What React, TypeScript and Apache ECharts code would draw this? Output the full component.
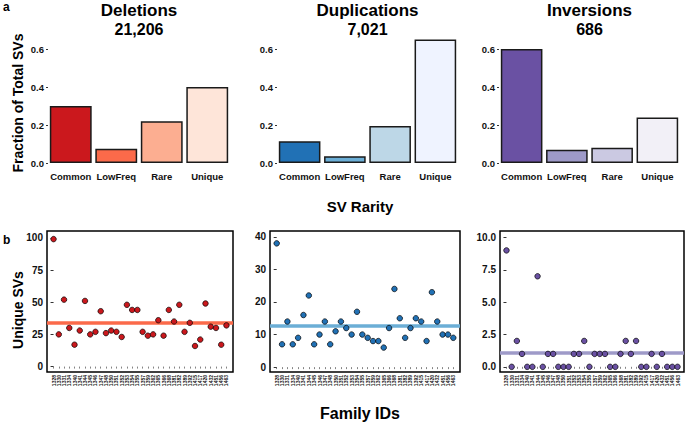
import React, { useEffect, useRef } from "react";
import * as echarts from "echarts";

const rarityCategories = ["Common", "LowFreq", "Rare", "Unique"];
const deletionFractions = [0.3, 0.075, 0.22, 0.4];
const duplicationFractions = [0.115, 0.035, 0.195, 0.65];
const inversionFractions = [0.6, 0.07, 0.08, 0.24];
const fractionTicks = [0, 0.2, 0.4, 0.6];

const deletionColors = ["#CB181D", "#FB6A4A", "#FCAE91", "#FEE5D9"];
const duplicationColors = ["#2171B5", "#6BAED6", "#BDD7E7", "#EFF3FF"];
const inversionColors = ["#6A51A3", "#9E9AC8", "#CBC9E2", "#F2F0F7"];

const panelTitles = ["Deletions", "Duplications", "Inversions"];
const panelTotals = ["21,206", "7,021", "686"];

const familyIds = [
  "1328", "1330", "1331", "1334", "1340", "1341", "1344", "1345", "1346", "1347",
  "1348", "1350", "1351", "1352", "1353", "1354", "1355", "1357", "1359", "1362",
  "1365", "1366", "1368", "1381", "1382", "1389", "1392", "1415", "1417", "1420",
  "1432", "1451", "1456", "1463",
];
const deletionUnique = [
  99, 25, 52, 30, 17, 28, 51, 25, 27, 43, 26, 28, 27, 23, 48, 44, 44, 27, 24, 25,
  36, 24, 44, 35, 48, 27, 34, 16, 21, 49, 31, 30, 17, 32,
];
const duplicationUnique = [
  38, 7, 14, 7, 9, 16, 22, 7, 10, 14, 7, 11, 14, 12, 10, 17, 10, 9, 8, 8,
  6, 12, 24, 15, 9, 12, 15, 14, 8, 23, 14, 10, 10, 9,
];
const inversionUnique = [
  9, 0, 2, 1, 0, 0, 7, 0, 1, 1, 0, 0, 0, 1, 1, 2, 0, 1, 1, 1,
  0, 0, 1, 2, 1, 2, 0, 0, 1, 0, 1, 0, 0, 0,
];
const deletionTicks = [0, 25, 50, 75, 100];
const duplicationTicks = [0, 10, 20, 30, 40];
const inversionTicks = [0, 2.5, 5, 7.5, 10];

const FONT = "'Liberation Sans', Arial, Helvetica, sans-serif";
const W = 685;
const H = 423;

const mean = (a: number[]) => a.reduce((s, v) => s + v, 0) / a.length;

export default function App() {
  const ref = useRef<HTMLDivElement>(null);

  useEffect(() => {
    if (!ref.current) return;
    const chart = echarts.init(ref.current, undefined, { renderer: "svg", width: W, height: H });

    const topGrids = [
      { left: 48, width: 182 },
      { left: 277, width: 181 },
      { left: 499, width: 181 },
    ];
    const botGrids = [
      { left: 47, width: 186 },
      { left: 270, width: 190 },
      { left: 500, width: 184 },
    ];
    const fractions = [deletionFractions, duplicationFractions, inversionFractions];
    const colors = [deletionColors, duplicationColors, inversionColors];
    const uniques = [deletionUnique, duplicationUnique, inversionUnique];
    const yTicks = [deletionTicks, duplicationTicks, inversionTicks];
    const yRanges = [
      [-4.2, 105.3],
      [-1.5, 41.8],
      [-0.4, 10.5],
    ];
    const yFmt = [
      (v: number) => String(v),
      (v: number) => String(v),
      (v: number) => v.toFixed(1),
    ];
    const lineColors = ["#FB6A4A", "#6BAED6", "#9E9AC8"];

    const grid: any[] = [];
    const xAxis: any[] = [];
    const yAxis: any[] = [];
    const series: any[] = [];
    const graphic: any[] = [];

    for (let p = 0; p < 3; p++) {
      // top bar panels
      grid.push({ left: topGrids[p].left, width: topGrids[p].width, top: 30, bottom: H - 163 });
      xAxis.push({
        gridIndex: grid.length - 1,
        type: "category",
        data: rarityCategories,
        axisLine: { show: false },
        axisTick: { show: false },
        axisLabel: {
          interval: 0,
          hideOverlap: false,
          fontFamily: FONT,
          fontWeight: "bold",
          fontSize: 9.5,
          color: "#111",
          margin: 8,
        },
      });
      yAxis.push({
        gridIndex: grid.length - 1,
        type: "value",
        min: 0,
        max: 0.7,
        axisLine: { show: false },
        splitLine: { show: false },
        axisTick: { show: true, length: 2, lineStyle: { color: "#333" }, customValues: fractionTicks },
        axisLabel: {
          fontFamily: FONT,
          fontWeight: "bold",
          fontSize: 9.5,
          color: "#111",
          margin: 4,
          customValues: fractionTicks,
          formatter: (v: number) => v.toFixed(1),
        },
      });
      series.push({
        type: "bar",
        xAxisIndex: xAxis.length - 1,
        yAxisIndex: yAxis.length - 1,
        barCategoryGap: "8%",
        data: fractions[p].map((v, i) => ({
          value: v,
          itemStyle: { color: colors[p][i] },
        })),
        itemStyle: { borderColor: "#1a1a1a", borderWidth: 1.5 },
      });
      const cx = topGrids[p].left + topGrids[p].width / 2;
      graphic.push({
        type: "text",
        x: cx,
        y: 10,
        style: {
          text: panelTitles[p],
          font: `bold 17px ${FONT}`,
          fill: "#000",
          textAlign: "center",
          textVerticalAlign: "middle",
        },
      });
      graphic.push({
        type: "text",
        x: cx,
        y: 29,
        style: {
          text: panelTotals[p],
          font: `bold 16px ${FONT}`,
          fill: "#000",
          textAlign: "center",
          textVerticalAlign: "middle",
        },
      });
    }

    for (let p = 0; p < 3; p++) {
      // bottom scatter panels
      grid.push({
        left: botGrids[p].left,
        width: botGrids[p].width,
        top: 231,
        bottom: H - 372,
        show: true,
        borderColor: "#000",
        borderWidth: 1.5,
        backgroundColor: "transparent",
      });
      const idxs = familyIds.map((_, i) => i);
      xAxis.push({
        gridIndex: grid.length - 1,
        type: "value",
        min: -1.25,
        max: 34.25,
        axisLine: { show: false },
        splitLine: { show: false },
        axisTick: { show: true, length: 2, lineStyle: { color: "#333", width: 0.6 }, customValues: idxs },
        axisLabel: {
          interval: 0,
          hideOverlap: false,
          fontFamily: FONT,
          fontWeight: "bold",
          fontSize: 5,
          lineHeight: 5,
          color: "#111",
          rotate: 90,
          margin: 3,
          customValues: idxs,
          formatter: (v: number) => familyIds[Math.round(v)] ?? "",
        },
      });
      yAxis.push({
        gridIndex: grid.length - 1,
        type: "value",
        min: yRanges[p][0],
        max: yRanges[p][1],
        axisLine: { show: false },
        splitLine: { show: false },
        axisTick: { show: true, length: 3, lineStyle: { color: "#333" }, customValues: yTicks[p] },
        axisLabel: {
          fontFamily: FONT,
          fontWeight: "bold",
          fontSize: 10,
          color: "#111",
          margin: 4,
          customValues: yTicks[p],
          formatter: yFmt[p],
        },
      });
      series.push({
        type: "scatter",
        xAxisIndex: xAxis.length - 1,
        yAxisIndex: yAxis.length - 1,
        z: 3,
        symbolSize: 5.5,
        itemStyle: { color: colors[p][0], borderColor: "#000", borderWidth: 0.7, opacity: 1 },
        data: uniques[p].map((v, i) => [i, v]),
        markLine: {
          silent: true,
          symbol: "none",
          z: 1,
          label: { show: false },
          lineStyle: { color: lineColors[p], width: 3.5, type: "solid", opacity: 1 },
          data: [{ yAxis: mean(uniques[p]) }],
        },
      });
    }

    graphic.push(
      {
        type: "text",
        x: 3,
        y: 7,
        style: { text: "a", font: `bold 12px ${FONT}`, fill: "#000", textVerticalAlign: "middle" },
      },
      {
        type: "text",
        x: 3,
        y: 240,
        style: { text: "b", font: `bold 12px ${FONT}`, fill: "#000", textVerticalAlign: "middle" },
      },
      {
        type: "text",
        x: 18,
        y: 103,
        rotation: Math.PI / 2,
        style: {
          text: "Fraction of Total SVs",
          font: `bold 14px ${FONT}`,
          fill: "#000",
          textAlign: "center",
          textVerticalAlign: "middle",
        },
      },
      {
        type: "text",
        x: 18,
        y: 310,
        rotation: Math.PI / 2,
        style: {
          text: "Unique SVs",
          font: `bold 14px ${FONT}`,
          fill: "#000",
          textAlign: "center",
          textVerticalAlign: "middle",
        },
      },
      {
        type: "text",
        x: 360,
        y: 206,
        style: {
          text: "SV Rarity",
          font: `bold 15px ${FONT}`,
          fill: "#000",
          textAlign: "center",
          textVerticalAlign: "middle",
        },
      },
      {
        type: "text",
        x: 360,
        y: 413,
        style: {
          text: "Family IDs",
          font: `bold 16px ${FONT}`,
          fill: "#000",
          textAlign: "center",
          textVerticalAlign: "middle",
        },
      }
    );

    chart.setOption({
      animation: false,
      backgroundColor: "#fff",
      textStyle: { fontFamily: FONT },
      grid,
      xAxis,
      yAxis,
      series,
      graphic,
    });

    return () => {
      chart.dispose();
    };
  }, []);

  return (
    <div
      ref={ref}
      style={{ position: "fixed", left: 0, top: 0, width: W, height: H, background: "#fff" }}
    />
  );
}
